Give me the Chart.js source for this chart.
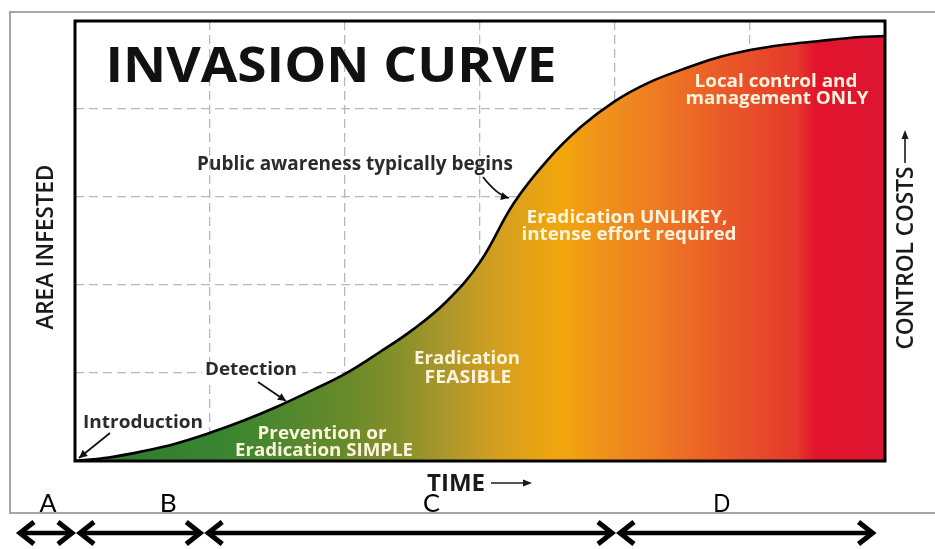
<!DOCTYPE html>
<html>
<head>
<meta charset="utf-8">
<title>Invasion Curve</title>
<script src="https://cdn.jsdelivr.net/npm/chart.js@4.4.1/dist/chart.umd.min.js"></script>
<style>
  html, body { margin: 0; padding: 0; background: #fff; }
  canvas { display: block; }
</style>
</head>
<body>
<canvas id="invasionChart" width="935" height="549"></canvas>
<script>
// Time (grid columns) and area infested (grid rows)
const timeSteps = [0, 0.25, 0.5, 0.75, 1, 1.25, 1.5, 1.75, 2, 2.25, 2.5, 2.75, 3, 3.25, 3.5, 3.75, 4, 4.25, 4.5, 4.75, 5, 5.25, 5.5, 5.75, 6];
const areaInfested = [0, 0.04, 0.11, 0.2, 0.32, 0.46, 0.62, 0.8, 0.99, 1.23, 1.49, 1.81, 2.26, 2.93, 3.42, 3.8, 4.09, 4.3, 4.45, 4.58, 4.67, 4.73, 4.77, 4.81, 4.83];

// Stages along the time axis
const stageLetters = ['A', 'B', 'C', 'D'];
const stageBounds = [-0.43, 0, 0.95, 4.0, 5.93];
const stageLetterAt = [-0.2, 0.69, 2.64, 4.79];

// Fill colours from introduction (left) to full invasion (right)
const fillStops = [
    [0.00, '#2c7a2e'],
    [0.18, '#388530'],
    [0.33, '#668a2a'],
    [0.40, '#86902a'],
    [0.46, '#ad972a'],
    [0.52, '#d39f20'],
    [0.60, '#f2a60c'],
    [0.65, '#f0931a'],
    [0.72, '#ee7a22'],
    [0.80, '#ea5a28'],
    [0.89, '#e53a2c'],
    [0.915, '#e2132d'],
    [1.00, '#dc1530']
];

const points = timeSteps.map((t, i) => ({ x: t, y: areaInfested[i] }));

function fitText(ctx, text, cx, baseY, width, font, color, rot) {
    ctx.save();
    ctx.font = font;
    ctx.fillStyle = color;
    ctx.textAlign = 'center';
    ctx.textBaseline = 'alphabetic';
    ctx.translate(cx, baseY);
    if (rot) ctx.rotate(rot);
    const w = ctx.measureText(text).width;
    ctx.scale(width / w, 1);
    ctx.fillText(text, 0, 0);
    ctx.restore();
}

function headAt(ctx, x, y, angle, len, half) {
    ctx.beginPath();
    ctx.moveTo(x, y);
    ctx.lineTo(x - len * Math.cos(angle) + half * Math.sin(angle), y - len * Math.sin(angle) - half * Math.cos(angle));
    ctx.lineTo(x - len * Math.cos(angle) - half * Math.sin(angle), y - len * Math.sin(angle) + half * Math.cos(angle));
    ctx.closePath();
    ctx.fill();
}

function pointer(ctx, x1, y1, x2, y2, cx, cy) {
    ctx.save();
    ctx.strokeStyle = '#111';
    ctx.fillStyle = '#111';
    ctx.lineWidth = 1.8;
    ctx.beginPath();
    ctx.moveTo(x1, y1);
    if (cx !== undefined) ctx.quadraticCurveTo(cx, cy, x2, y2);
    else ctx.lineTo(x2, y2);
    ctx.stroke();
    const a = cx !== undefined ? Math.atan2(y2 - cy, x2 - cx) : Math.atan2(y2 - y1, x2 - x1);
    headAt(ctx, x2, y2, a, 8, 4);
    ctx.restore();
}

function doubleArrow(ctx, x1, x2, y) {
    ctx.save();
    ctx.strokeStyle = '#000';
    ctx.lineWidth = 4.5;
    ctx.lineJoin = 'miter';
    ctx.beginPath();
    ctx.moveTo(x1 + 3, y);
    ctx.lineTo(x2 - 3, y);
    ctx.stroke();
    ctx.lineWidth = 5;
    ctx.beginPath();
    ctx.moveTo(x1 + 17, y - 11);
    ctx.lineTo(x1 + 3, y);
    ctx.lineTo(x1 + 17, y + 11);
    ctx.moveTo(x2 - 17, y - 11);
    ctx.lineTo(x2 - 3, y);
    ctx.lineTo(x2 - 17, y + 11);
    ctx.stroke();
    ctx.restore();
}

const decor = {
    id: 'invasionDecor',
    beforeDraw(chart) {
        const ctx = chart.ctx;
        ctx.save();
        ctx.strokeStyle = '#a6a6a6';
        ctx.lineWidth = 2;
        ctx.beginPath();
        ctx.moveTo(935, 12);
        ctx.lineTo(10, 12);
        ctx.lineTo(10, 513);
        ctx.lineTo(935, 513);
        ctx.stroke();
        ctx.restore();
    },
    afterDraw(chart) {
        const ctx = chart.ctx;
        const area = chart.chartArea;
        const xs = chart.scales.x;

        // frame
        ctx.save();
        ctx.strokeStyle = '#000';
        ctx.lineWidth = 3;
        ctx.strokeRect(area.left, area.top, area.right - area.left, area.bottom - area.top);
        ctx.restore();

        const dark = '#2b2b2b';
        const cream = '#fbf3dc';
        const lbl = '700 18px "Open Sans"';

        fitText(ctx, 'INVASION CURVE', 331, 82, 451, '700 48px "Open Sans"', '#111');

        fitText(ctx, 'Public awareness typically begins', 355, 170, 316, '700 19px "Open Sans"', dark);
        pointer(ctx, 483, 177, 509, 198, 497, 195);

        fitText(ctx, 'Eradication UNLIKEY,', 627, 223, 201, lbl, cream);
        fitText(ctx, 'intense effort required', 629, 240, 215, lbl, cream);

        fitText(ctx, 'Local control and', 776, 87, 163, lbl, cream);
        fitText(ctx, 'management ONLY', 777, 104, 183, lbl, cream);

        fitText(ctx, 'Eradication', 467, 364, 106, lbl, cream);
        fitText(ctx, 'FEASIBLE', 468, 383, 87, lbl, cream);

        ctx.save();
        ctx.fillStyle = '#fff';
        ctx.fillRect(202, 366, 100, 14);
        ctx.restore();
        fitText(ctx, 'Detection', 251, 375, 92, lbl, dark);
        pointer(ctx, 258, 382, 286, 401);

        fitText(ctx, 'Introduction', 143, 428, 120, lbl, dark);
        pointer(ctx, 110, 433, 79, 458);

        fitText(ctx, 'Prevention or', 322, 439, 129, lbl, cream);
        fitText(ctx, 'Eradication SIMPLE', 324, 456, 178, lbl, cream);

        // axis titles
        fitText(ctx, 'TIME', 456, 491, 58, '700 24px "Open Sans"', '#1a1a1a');
        ctx.save();
        ctx.strokeStyle = '#1a1a1a';
        ctx.fillStyle = '#1a1a1a';
        ctx.lineWidth = 1.6;
        ctx.beginPath();
        ctx.moveTo(491, 483);
        ctx.lineTo(526, 483);
        ctx.stroke();
        headAt(ctx, 532, 483, 0, 9, 3.5);
        ctx.restore();

        fitText(ctx, 'AREA INFESTED', 53, 247, 165, '600 23px "Open Sans"', '#1a1a1a', -Math.PI / 2);
        fitText(ctx, 'CONTROL COSTS', 913, 258, 183, '600 23px "Open Sans"', '#1a1a1a', -Math.PI / 2);
        ctx.save();
        ctx.strokeStyle = '#1a1a1a';
        ctx.fillStyle = '#1a1a1a';
        ctx.lineWidth = 1.6;
        ctx.beginPath();
        ctx.moveTo(905, 163);
        ctx.lineTo(905, 137);
        ctx.stroke();
        headAt(ctx, 905, 130, -Math.PI / 2, 9, 3.5);
        ctx.restore();

        // stage letters and spans
        stageLetters.forEach((s, i) => {
            fitText(ctx, s, xs.getPixelForValue(stageLetterAt[i]), 512, 17, '400 25px Lato', '#000');
            const x1 = xs.getPixelForValue(stageBounds[i]) + (i > 0 ? 2 : 0);
            const x2 = xs.getPixelForValue(stageBounds[i + 1]);
            doubleArrow(ctx, x1, x2, 533);
        });
    }
};

new Chart(document.getElementById('invasionChart'), {
    type: 'line',
    data: {
        datasets: [{
            label: 'Area infested',
            data: points,
            borderColor: '#000',
            borderWidth: 2.6,
            pointRadius: 0,
            tension: 0.4,
            fill: 'origin',
            backgroundColor(context) {
                const { ctx, chartArea } = context.chart;
                if (!chartArea) return 'rgba(0,0,0,0)';
                const g = ctx.createLinearGradient(chartArea.left, 0, chartArea.right, 0);
                fillStops.forEach(s => g.addColorStop(s[0], s[1]));
                return g;
            }
        }]
    },
    options: {
        responsive: false,
        animation: false,
        layout: { padding: { left: 75, top: 21, right: 50, bottom: 88 } },
        plugins: {
            legend: { display: false },
            tooltip: { enabled: false }
        },
        scales: {
            x: {
                type: 'linear',
                min: 0,
                max: 6,
                ticks: { display: false, stepSize: 1 },
                grid: { color: '#b8b8b8', lineWidth: 1.3, drawTicks: false },
                border: { display: false, dash: [9, 5] }
            },
            y: {
                min: 0,
                max: 5,
                ticks: { display: false, stepSize: 1 },
                grid: { color: '#b8b8b8', lineWidth: 1.3, drawTicks: false },
                border: { display: false, dash: [9, 5] }
            }
        }
    },
    plugins: [decor]
});
</script>
</body>
</html>
